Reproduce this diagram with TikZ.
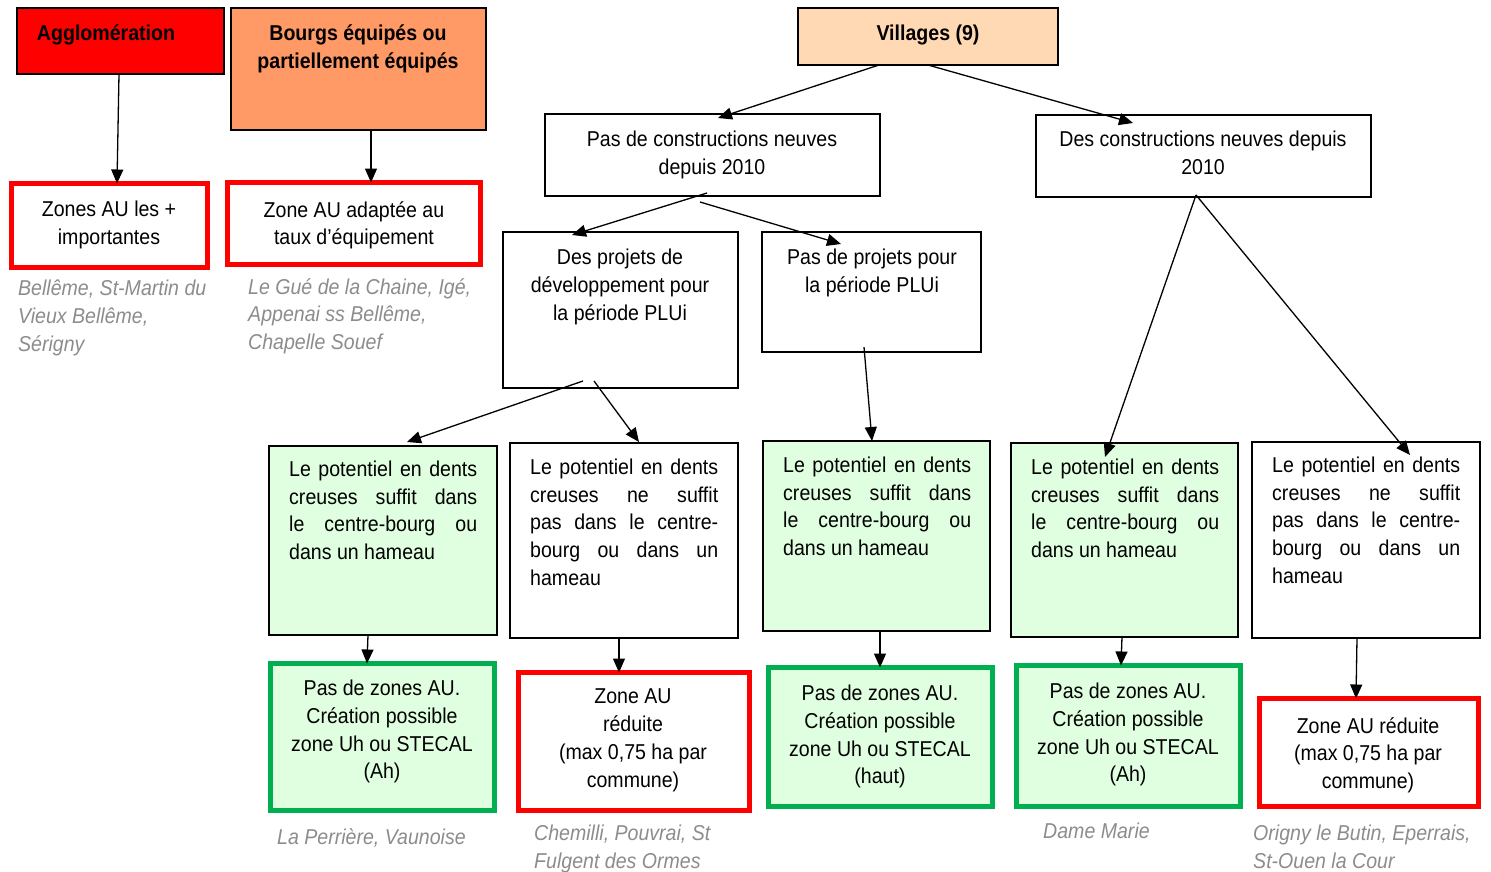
\documentclass[tikz,border=0pt]{standalone}
\usepackage{fontspec}
\setmainfont{Liberation Sans}[FakeStretch=0.91]
\usepackage{tikz}
\usetikzlibrary{arrows.meta}
\definecolor{agglored}{HTML}{FF0000}
\definecolor{bourgorange}{HTML}{FF9966}
\definecolor{villagepeach}{HTML}{FFD9B3}
\definecolor{palegreen}{HTML}{E0FFE0}
\definecolor{zonegreen}{HTML}{00B050}
\definecolor{citygray}{HTML}{8C8C8C}

\newcommand{\bodyfont}{\fontsize{21.5}{27.7}\selectfont}

\begin{document}
\begin{tikzpicture}[x=1pt, y=-1pt,
  box/.style={draw=black, line width=1.2pt, inner sep=0pt, outer sep=0pt},
  redbox/.style={draw=agglored, line width=5pt, fill=white, inner sep=0pt, outer sep=0pt},
  greenbox/.style={draw=zonegreen, line width=5pt, fill=palegreen, inner sep=0pt, outer sep=0pt},
  txt/.style={inner sep=0pt, anchor=north, align=center, font=\bodyfont, yshift=-5pt, execute at begin node=\strut},
  jtxt/.style={inner sep=0pt, anchor=north west, text width=188pt, align=justify, font=\bodyfont,
    execute at begin node={\tolerance=10000\hbadness=10000\strut}},
  city/.style={inner sep=0pt, anchor=north west, align=left, font=\bodyfont\itshape, text=citygray, yshift=-5pt, execute at begin node=\strut},
  arr/.style={line width=1.3pt, -{Triangle[length=14pt,width=12pt]}}
]
\useasboundingbox (0,0) rectangle (1491,872);

% Agglomeration and bourgs
\node[box, fill=agglored, minimum width=207, minimum height=66] (agglo) at (120.5,41) {};
\node[txt, font=\bodyfont\bfseries] (agglot) at (106,16) {Agglomération};
\node[box, fill=bourgorange, minimum width=255, minimum height=122] (bourgs) at (358.5,69) {};
\node[txt, font=\bodyfont\bfseries] (bourgst) at (358,20) {Bourgs équipés ou\\partiellement équipés};

\node[redbox, minimum width=196, minimum height=84] (zoneplus) at (109.5,225.5) {};
\node[txt] (zoneplust) at (109,196) {Zones AU les +\\importantes};
\node[redbox, minimum width=253, minimum height=82] (zoneadapt) at (354,223.5) {};
\node[txt] (zoneadaptt) at (354,196) {Zone AU adaptée au\\taux d’équipement};
\node[city] (cityagglo) at (18,275) {Bellême, St-Martin du\\Vieux Bellême,\\Sérigny};
\node[city] (citybourgs) at (248,273) {Le Gué de la Chaine, Igé,\\Appenai ss Bellême,\\Chapelle Souef};

% Villages
\node[box, fill=villagepeach, minimum width=260, minimum height=57] (villages) at (928,36.5) {};
\node[txt, font=\bodyfont\bfseries] (villagest) at (928,16) {Villages (9)};

\node[box, minimum width=335, minimum height=82] (sansconstr) at (712.5,155) {};
\node[txt] (sansconstrt) at (712,126) {Pas de constructions neuves\\depuis 2010};
\node[box, minimum width=335, minimum height=82] (avecconstr) at (1203.5,156) {};
\node[txt] (avecconstrt) at (1203,126) {Des constructions neuves depuis\\2010};

\node[box, minimum width=235, minimum height=156] (projets) at (620.5,310) {};
\node[txt] (projetst) at (620,244) {Des projets de\\développement pour\\la période PLUi};
\node[box, minimum width=219, minimum height=120] (sansprojets) at (871.5,292) {};
\node[txt] (sansprojetst) at (872,244) {Pas de projets pour\\la période PLUi};

% Dents creuses
\node[box, fill=palegreen, minimum width=228, minimum height=189] (dentsa) at (383,540.5) {};
\node[jtxt] (dentsat) at (289,457) {Le potentiel en dents\linebreak creuses suffit dans\linebreak le centre-bourg ou\linebreak dans un hameau};
\node[box, minimum width=228, minimum height=195] (dentsb) at (624,540.5) {};
\node[jtxt] (dentsbt) at (530,455) {Le potentiel en dents\linebreak creuses ne suffit\linebreak pas dans le centre-\linebreak bourg ou dans un\linebreak hameau};
\node[box, fill=palegreen, minimum width=227, minimum height=190] (dentsc) at (876.5,536) {};
\node[jtxt] (dentsct) at (783,453) {Le potentiel en dents\linebreak creuses suffit dans\linebreak le centre-bourg ou\linebreak dans un hameau};
\node[box, fill=palegreen, minimum width=227, minimum height=194] (dentsd) at (1124.5,540) {};
\node[jtxt] (dentsdt) at (1031,455) {Le potentiel en dents\linebreak creuses suffit dans\linebreak le centre-bourg ou\linebreak dans un hameau};
\node[box, minimum width=228, minimum height=196] (dentse) at (1366,540) {};
\node[jtxt] (dentset) at (1272,453) {Le potentiel en dents\linebreak creuses ne suffit\linebreak pas dans le centre-\linebreak bourg ou dans un\linebreak hameau};

% Zones AU / STECAL
\node[greenbox, minimum width=224, minimum height=147] (stecala) at (382.5,737) {};
\node[txt] (stecalat) at (382,675) {Pas de zones AU.\\Création possible\\zone Uh ou STECAL\\(Ah)};
\node[redbox, minimum width=231, minimum height=138] (reduitea) at (634,741.5) {};
\node[txt] (reduiteat) at (633,684) {Zone AU\\réduite\\(max 0,75 ha par\\commune)};
\node[greenbox, minimum width=224, minimum height=139] (stecalb) at (880.5,737) {};
\node[txt] (stecalbt) at (880,680) {Pas de zones AU.\\Création possible\\zone Uh ou STECAL\\(haut)};
\node[greenbox, minimum width=224, minimum height=141] (stecalc) at (1128.5,736) {};
\node[txt] (stecalct) at (1128,678) {Pas de zones AU.\\Création possible\\zone Uh ou STECAL\\(Ah)};
\node[redbox, minimum width=219, minimum height=108] (reduiteb) at (1369,752.5) {};
\node[txt] (reduitebt) at (1368,712) {Zone AU réduite\\(max 0,75 ha par\\commune)};

\node[city] (citya) at (277,820) {La Perrière, Vaunoise};
\node[city] (cityb) at (534,820) {Chemilli, Pouvrai, St\\Fulgent des Ormes};
\node[city] (cityc) at (1043,814) {Dame Marie};
\node[city] (cityd) at (1253,820) {Origny le Butin, Eperrais,\\St-Ouen la Cour};

% Arrows
\draw[arr] ([xshift=-1.5]agglo.south) -- ([xshift=7.5]zoneplus.north);
\draw[arr] ([xshift=12.5]bourgs.south) -- ([xshift=17]zoneadapt.north);
\draw[arr] ([xshift=-49]villages.south) -- ([xshift=5.5,yshift=-4]sansconstr.north);
\draw[arr] (villages.south) -- ([xshift=-70.5,yshift=-8]avecconstr.north);
\draw[arr] ([xshift=-5.5,yshift=3]sansconstr.south) -- ([xshift=-48.5,yshift=-3]projets.north);
\draw[arr] ([xshift=-12.5,yshift=-6]sansconstr.south) -- ([xshift=-30.5,yshift=-12]sansprojets.north);
\draw[arr] ([xshift=-7.5,yshift=2]avecconstr.south) -- ([xshift=-19.5,yshift=-14]dentsd.north);
\draw[arr] ([xshift=-7.5,yshift=2]avecconstr.south) -- ([xshift=44,yshift=-13]dentse.north);
\draw[arr] ([xshift=-37.5,yshift=7]projets.south) -- ([xshift=24,yshift=4]dentsa.north);
\draw[arr] ([xshift=-26.5,yshift=7]projets.south) -- ([xshift=15,yshift=1]dentsb.north);
\draw[arr] ([xshift=-7.5,yshift=5]sansprojets.south) -- ([xshift=-4.5]dentsc.north);
\draw[arr] ([xshift=-15]dentsa.south) -- ([xshift=-15.5]stecala.north);
\draw[arr] ([xshift=-5]dentsb.south) -- ([xshift=-15]reduitea.north);
\draw[arr] ([xshift=3.5]dentsc.south) -- ([xshift=-0.5]stecalb.north);
\draw[arr] ([xshift=-2.5]dentsd.south) -- ([xshift=-7.5]stecalc.north);
\draw[arr] ([xshift=-9]dentse.south) -- ([xshift=-13]reduiteb.north);

\end{tikzpicture}
\end{document}
